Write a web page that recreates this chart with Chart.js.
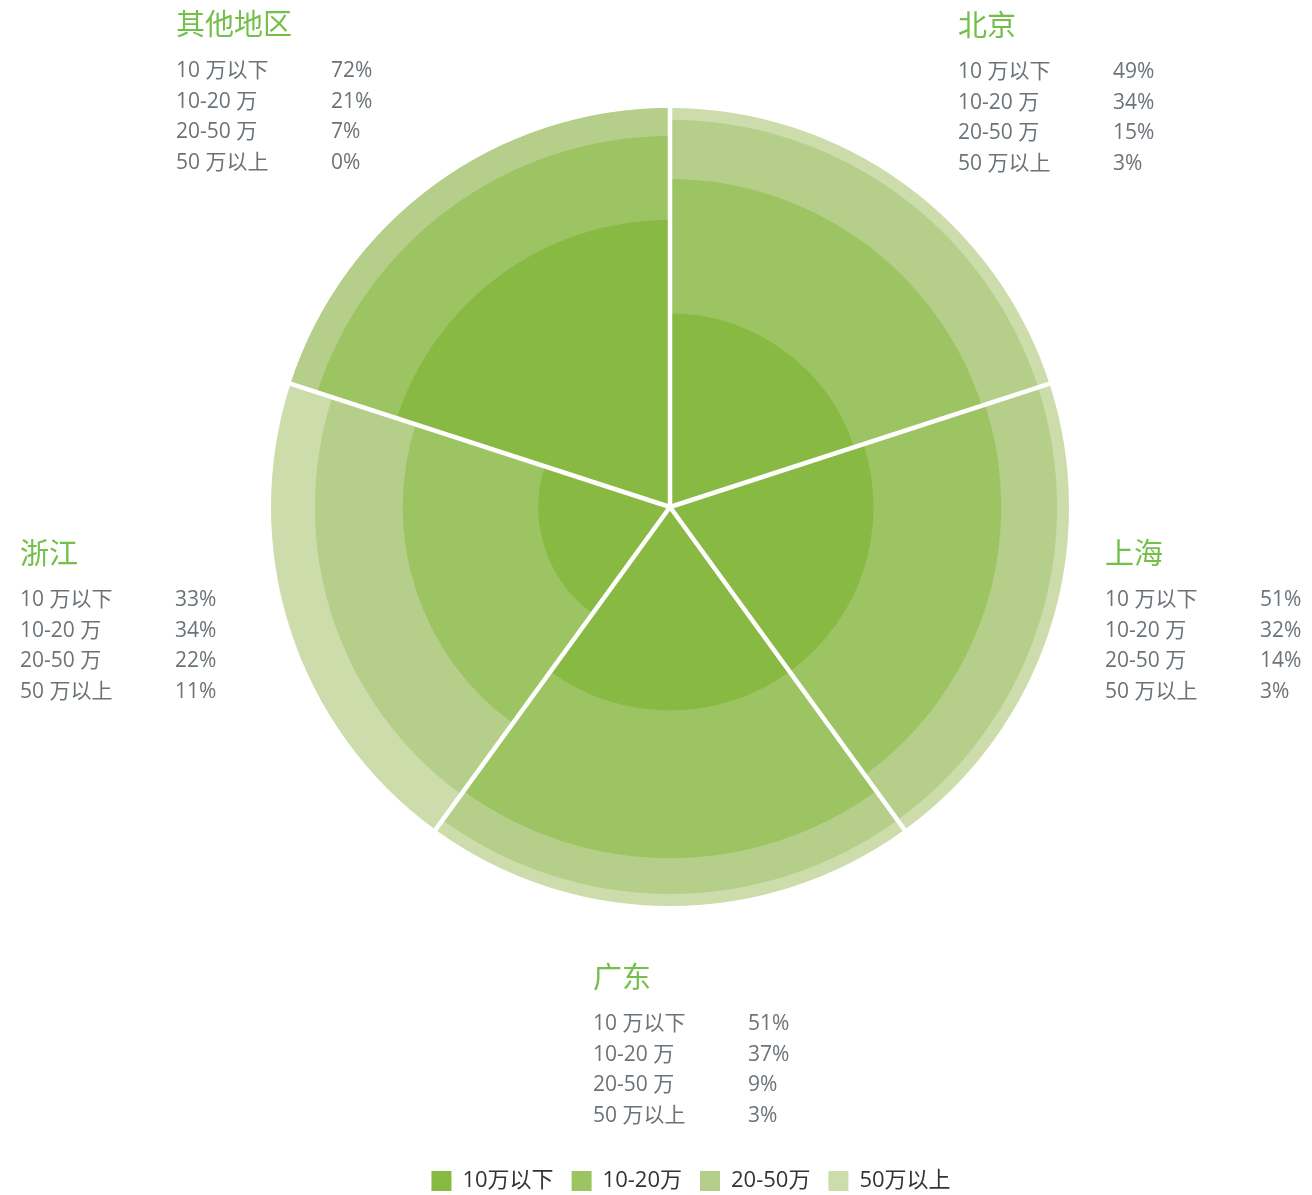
<!DOCTYPE html>
<html>
<head>
<meta charset="utf-8">
<script src="https://cdn.jsdelivr.net/npm/chart.js@4.4.1/dist/chart.umd.min.js"></script>
<style>
  body { margin: 0; background: #fff; }
  #wrap { width: 1312px; height: 1195px; position: relative; }
</style>
</head>
<body>
<div id="wrap"><canvas id="myChart"></canvas></div>
<script>
// 1 DATA
const regions = ['北京', '上海', '广东', '浙江', '其他地区'];
const tiers = ['10万以下', '10-20万', '20-50万', '50万以上'];
const tierText = ['10 万以下', '10-20 万', '20-50 万', '50 万以上'];
const below10 = [49, 51, 51, 33, 72];
const from10to20 = [34, 32, 37, 34, 21];
const from20to50 = [15, 14, 9, 22, 7];
const above50 = [3, 3, 3, 11, 0];
const colors = ['#88b942', '#9dc462', '#b5cf8a', '#ccdcab'];

const series = [below10, from10to20, from20to50, above50];
const FONT = '"Open Sans", "Noto Sans CJK SC", sans-serif';

// 2 STACK: each ring reaches the running share of its region
const datasets = tiers.map((t, i) => ({
    label: t,
    data: regions.map((r, j) => {
        let total = 0, upto = 0;
        series.forEach((s, k) => { total += s[j]; if (k <= i) upto += s[j]; });
        return upto / total * 100;
    }),
    backgroundColor: colors[i],
    borderWidth: 0
}));

// 3 WHITE SPOKES BETWEEN REGIONS
const spokes = {
    id: 'spokes',
    afterDatasetsDraw(chart) {
        const scale = chart.scales.r;
        const meta = chart.getDatasetMeta(datasets.length - 1);
        const ctx = chart.ctx;
        ctx.save();
        ctx.strokeStyle = '#fff';
        ctx.lineWidth = 4.5;
        meta.data.forEach(arc => {
            const a = arc.startAngle;
            ctx.beginPath();
            ctx.moveTo(scale.xCenter, scale.yCenter);
            ctx.lineTo(scale.xCenter + Math.cos(a) * (scale.drawingArea + 6),
                       scale.yCenter + Math.sin(a) * (scale.drawingArea + 6));
            ctx.stroke();
        });
        ctx.restore();
    }
};

// 4 TEXT BLOCKS NEXT TO EACH REGION
const blockPos = [[958, 28], [1105, 556], [593, 980], [20, 556], [176, 27]];
const blocks = {
    id: 'blocks',
    afterDraw(chart) {
        const ctx = chart.ctx;
        ctx.save();
        ctx.textBaseline = 'middle';
        ctx.textAlign = 'left';
        regions.forEach((name, j) => {
            const [x, y] = blockPos[j];
            ctx.fillStyle = '#74bf4a';
            ctx.font = '29px ' + FONT;
            ctx.fillText(name, x, y);
            ctx.font = '21px ' + FONT;
            ctx.fillStyle = '#6c7378';
            series.forEach((s, k) => {
                const ry = y + 44 + k * 30.6;
                ctx.fillText(tierText[k], x, ry);
                ctx.fillText(s[j] + '%', x + 155, ry);
            });
        });
        ctx.restore();
    }
};

// 5 NUDGE LEGEND
const legendShift = {
    id: 'legendShift',
    afterLayout(chart) {
        chart.legend.left += 21;
        chart.legend.right += 21;
    }
};

// 6 CHART
const ctx = document.querySelector('#myChart').getContext('2d');
const myChart = new Chart(ctx, {
    type: 'polarArea',
    data: { labels: regions, datasets: datasets },
    options: {
        responsive: true,
        maintainAspectRatio: false,
        animation: false,
        events: [],
        layout: { padding: { top: 108, left: 270, right: 242, bottom: -7 } },
        scales: {
            r: {
                min: 0,
                max: 100,
                grid: { display: false },
                angleLines: { display: false },
                ticks: { display: false },
                pointLabels: { display: false }
            }
        },
        plugins: {
            tooltip: { enabled: false },
            legend: {
                position: 'bottom',
                title: { display: true, text: '', font: { size: 10, lineHeight: 1 }, padding: { top: 236, bottom: 0 } },
                labels: {
                    boxWidth: 20,
                    boxHeight: 20,
                    padding: 18,
                    color: '#333',
                    font: { size: 22, family: FONT },
                    generateLabels: chart => chart.data.datasets.map((d, i) => ({
                        text: d.label,
                        fillStyle: d.backgroundColor,
                        strokeStyle: d.backgroundColor,
                        lineWidth: 0,
                        fontColor: '#333',
                        hidden: false,
                        datasetIndex: i
                    }))
                }
            }
        }
    },
    plugins: [spokes, blocks, legendShift]
});
</script>
</body>
</html>
